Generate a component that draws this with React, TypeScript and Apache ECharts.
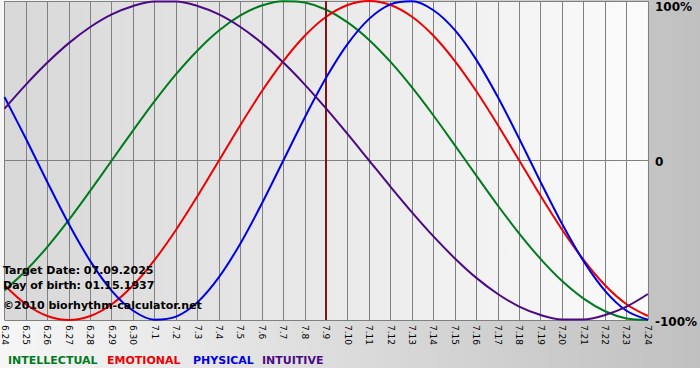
import React, { useEffect, useRef } from "react";
import * as echarts from "echarts";

const days: string[] = [
  "6.24", "6.25", "6.26", "6.27", "6.28", "6.29", "6.30",
  "7.1", "7.2", "7.3", "7.4", "7.5", "7.6", "7.7", "7.8", "7.9", "7.10",
  "7.11", "7.12", "7.13", "7.14", "7.15", "7.16", "7.17", "7.18", "7.19", "7.20",
  "7.21", "7.22", "7.23", "7.24",
];

const intellectual: number[] = [-81.5, -69.0, -54.1, -37.2, -18.9, 0, 18.9, 37.2, 54.1, 69.0, 81.5, 91.0, 97.2, 99.9, 99.0, 94.5, 86.6, 75.6, 61.8, 45.8, 28.2, 9.5, -9.5, -28.2, -45.8, -61.8, -75.6, -86.6, -94.5, -99.0, -99.9];
const emotional: number[] = [-78.2, -90.1, -97.5, -100, -97.5, -90.1, -78.2, -62.3, -43.4, -22.3, 0, 22.3, 43.4, 62.3, 78.2, 90.1, 97.5, 100, 97.5, 90.1, 78.2, 62.3, 43.4, 22.3, 0, -22.3, -43.4, -62.3, -78.2, -90.1, -97.5];
const physical: number[] = [39.8, 13.6, -13.6, -39.8, -63.1, -81.7, -94.2, -99.8, -97.9, -88.8, -73.1, -52.0, -27.0, 0, 27.0, 52.0, 73.1, 88.8, 97.9, 99.8, 94.2, 81.7, 63.1, 39.8, 13.6, -13.6, -39.8, -63.1, -81.7, -94.2, -99.8];
const intuitive: number[] = [32.5, 47.6, 61.4, 73.6, 83.7, 91.6, 96.9, 99.7, 99.7, 96.9, 91.6, 83.7, 73.6, 61.4, 47.6, 32.5, 16.5, 0, -16.5, -32.5, -47.6, -61.4, -73.6, -83.7, -91.6, -96.9, -99.7, -99.7, -96.9, -91.6, -83.7];

const seriesNames: string[] = ["INTELLECTUAL", "EMOTIONAL", "PHYSICAL", "INTUITIVE"];
const seriesColors: string[] = ["#007a1e", "#ee0000", "#0000e6", "#4b0a84"];
const legendX: number[] = [8, 107, 193, 262];
const yTicks: number[] = [-100, 0, 100];
const yTickLabels: string[] = ["-100%", "0", "100%"];
const targetDay = "7.9";
const infoLines: string[] = ["Target Date: 07.09.2025", "Day of birth: 01.15.1937", "\u00a92010 biorhythm-calculator.net"];
const infoY: number[] = [272, 287, 307];

export default function App() {
  const ref = useRef<HTMLDivElement>(null);
  useEffect(() => {
    if (!ref.current) return;
    const chart = echarts.init(ref.current, undefined, { renderer: "svg" });
    const values = [intellectual, emotional, physical, intuitive];
    const font = "'DejaVu Sans', Verdana, sans-serif";
    chart.setOption({
      animation: false,
      backgroundColor: "transparent",
      grid: {
        left: 2,
        right: 49,
        top: 1,
        bottom: 60,
        show: true,
        borderWidth: 0,
        backgroundColor: new echarts.graphic.LinearGradient(0, 0, 1, 0, [
          { offset: 0, color: "#d8d8d8" },
          { offset: 1, color: "#fbfbfb" },
        ]),
      },
      xAxis: {
        type: "category",
        data: days,
        boundaryGap: false,
        axisLine: { show: true, lineStyle: { color: "#808080", width: 1 } },
        axisTick: { show: true, length: 3, interval: 0, lineStyle: { color: "#808080" } },
        axisLabel: {
          interval: 0,
          rotate: -90,
          fontSize: 9,
          fontFamily: font,
          color: "#000",
          margin: 5,
        },
        splitLine: { show: true, interval: 0, lineStyle: { color: "#808080", width: 1 } },
      },
      yAxis: {
        type: "value",
        position: "right",
        min: -100,
        max: 100,
        interval: 100,
        axisLine: { show: false },
        axisTick: { show: false },
        splitLine: { show: true, lineStyle: { color: "#808080", width: 1 } },
        axisLabel: {
          margin: 7,
          fontSize: 12,
          fontWeight: "bold",
          fontFamily: font,
          color: "#000",
          formatter: (v: number) => {
            const i = yTicks.indexOf(v);
            const t = i >= 0 ? yTickLabels[i] : "";
            if (v === 100) return "{t|" + t + "}";
            if (v === -100) return "{b|" + t + "}";
            return "{m|" + t + "}";
          },
          rich: {
            t: { fontSize: 12, fontWeight: "bold", fontFamily: font, color: "#000", padding: [11, 0, 0, 0] },
            m: { fontSize: 12, fontWeight: "bold", fontFamily: font, color: "#000", padding: [2, 0, 0, 0] },
            b: { fontSize: 12, fontWeight: "bold", fontFamily: font, color: "#000", padding: [4, 0, 0, 0] },
          },
        },
      },
      series: seriesNames.map((name, i) => ({
        name,
        type: "line",
        data: values[i],
        smooth: 0.33,
        showSymbol: false,
        clip: true,
        lineStyle: { color: seriesColors[i], width: 2 },
        itemStyle: { color: seriesColors[i] },
        z: 3 + i,
        markLine:
          i === 0
            ? {
                silent: true,
                symbol: "none",
                label: { show: false },
                lineStyle: { color: "#7e1414", width: 2, type: "solid" },
                data: [{ xAxis: targetDay }],
              }
            : undefined,
      })),
      graphic: [
        ...infoLines.map((t, i) => ({
          type: "text",
          left: 3,
          top: infoY[i] - 7,
          z: 20,
          style: {
            text: t,
            fill: "#000",
            font: "bold 11px " + font,
          },
        })),
        ...seriesNames.map((n, i) => ({
          type: "text",
          left: legendX[i],
          top: 355,
          z: 20,
          style: {
            text: n,
            fill: seriesColors[i],
            font: "bold 11px " + font,
          },
        })),
      ],
    });
    return () => chart.dispose();
  }, []);
  return (
    <div
      ref={ref}
      style={{
        position: "absolute",
        left: 0,
        top: 0,
        width: 700,
        height: 380,
        background: "linear-gradient(to right, #f6f6f6, #c0c0c0) 0 0 / 100% 368px no-repeat, #ffffff",
      }}
    />
  );
}
